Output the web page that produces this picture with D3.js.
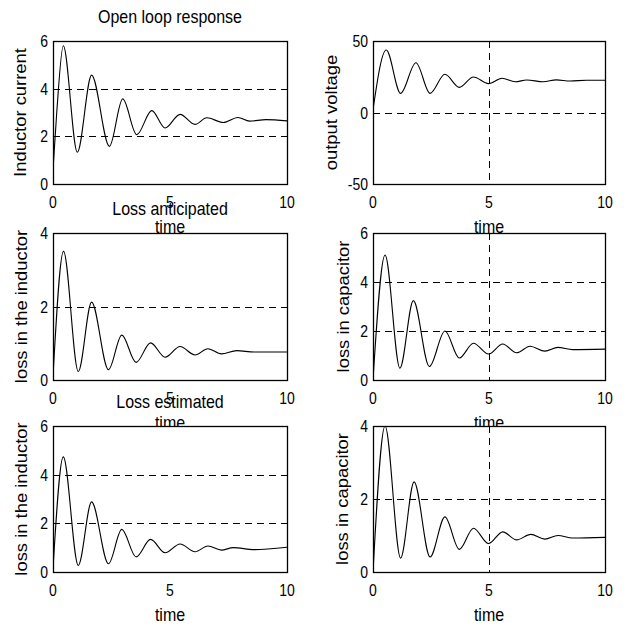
<!DOCTYPE html>
<html>
<head>
<meta charset="utf-8">
<script src="https://cdn.jsdelivr.net/npm/d3@7"></script>
<style>
  body { margin: 0; background: #fff; }
  text { font-family: "Liberation Sans", Arial, sans-serif; fill: #000; }
</style>
</head>
<body>
<div class="canvas"></div>
<script>
// values: time and value at peaks / troughs
const currentT = [0, 0.16, 0.44, 1.04, 1.65, 2.41, 2.98, 3.58, 4.22, 4.79, 5.43, 6.07, 6.57, 7.28, 7.9, 8.4, 9.1, 10];
const currentV = [0.6, 3.0, 5.8, 1.33, 4.57, 1.58, 3.57, 2.07, 3.08, 2.35, 2.92, 2.5, 2.78, 2.58, 2.79, 2.64, 2.7, 2.65];

const voltageT = [0, 0.57, 1.19, 1.85, 2.46, 3.1, 3.72, 4.33, 4.98, 5.56, 6.13, 6.63, 7.34, 7.9, 8.5, 9.2, 10];
const voltageV = [2, 43.7, 13.4, 34.8, 13.4, 26.7, 17.6, 24.8, 20.2, 23.9, 21.5, 22.7, 21.5, 22.8, 22.0, 22.6, 22.6];

const indAntT = [0, 0.45, 1.08, 1.65, 2.37, 2.94, 3.55, 4.17, 4.79, 5.43, 6.07, 6.62, 7.2, 7.85, 8.6, 10];
const indAntV = [0.1, 3.5, 0.23, 2.12, 0.28, 1.22, 0.48, 1.01, 0.62, 0.91, 0.68, 0.85, 0.71, 0.8, 0.76, 0.76];

const capAntT = [0, 0.52, 1.16, 1.74, 2.43, 3.1, 3.72, 4.33, 4.98, 5.59, 6.19, 6.77, 7.41, 7.97, 8.6, 10];
const capAntV = [0, 5.1, 0.48, 3.24, 0.55, 2.0, 0.9, 1.5, 1.06, 1.47, 1.11, 1.38, 1.18, 1.33, 1.24, 1.26];

const indEstT = [0, 0.44, 1.08, 1.65, 2.37, 2.94, 3.55, 4.17, 4.79, 5.43, 6.07, 6.62, 7.2, 7.7, 8.6, 10];
const indEstV = [0.14, 4.73, 0.27, 2.88, 0.34, 1.75, 0.62, 1.34, 0.79, 1.15, 0.83, 1.07, 0.9, 1.0, 0.92, 1.02];

const capEstT = [0, 0.52, 1.19, 1.77, 2.46, 3.1, 3.72, 4.33, 4.98, 5.59, 6.19, 6.8, 7.41, 7.97, 8.6, 10];
const capEstV = [0, 4.0, 0.38, 2.47, 0.41, 1.51, 0.62, 1.2, 0.78, 1.1, 0.88, 1.03, 0.9, 1.0, 0.93, 0.95];

const xTicks = [0, 5, 10];

// layout of the 3x2 grid of axes
const cols = [[53, 287], [373, 605]];
const rows = [[41, 184], [233, 380], [426, 572]];

const panels = [
  { c: 0, r: 0, t: currentT, v: currentV, y: [0, 6], yTicks: [0, 2, 4, 6], hGrid: [2, 4], vGrid: [],
    title: 'Open loop response', ylabel: 'Inductor current', labX: 20 },
  { c: 1, r: 0, t: voltageT, v: voltageV, y: [-50, 50], yTicks: [-50, 0, 50], hGrid: [0], vGrid: [5],
    title: '', ylabel: 'output voltage', labX: 331 },
  { c: 0, r: 1, t: indAntT, v: indAntV, y: [0, 4], yTicks: [0, 2, 4], hGrid: [2], vGrid: [],
    title: 'Loss anticipated', ylabel: 'loss in the inductor', labX: 21 },
  { c: 1, r: 1, t: capAntT, v: capAntV, y: [0, 6], yTicks: [0, 2, 4, 6], hGrid: [2, 4], vGrid: [5],
    title: '', ylabel: 'loss in capacitor', labX: 343 },
  { c: 0, r: 2, t: indEstT, v: indEstV, y: [0, 6], yTicks: [0, 2, 4, 6], hGrid: [2, 4], vGrid: [],
    title: 'Loss estimated', ylabel: 'loss in the inductor', labX: 21 },
  { c: 1, r: 2, t: capEstT, v: capEstV, y: [0, 4], yTicks: [0, 2, 4], hGrid: [2], vGrid: [5],
    title: '', ylabel: 'loss in capacitor', labX: 342 }
];

const svg = d3.select('.canvas')
  .append('svg')
    .attr('width', 625)
    .attr('height', 625);

const defs = svg.append('defs');

// text is a bit stretched vertically in the original
function hText(g, x, y, str, size, anchor) {
  return g.append('text')
    .attr('transform', `translate(${x},${y}) scale(1,1.2)`)
    .attr('text-anchor', anchor)
    .style('font-size', size + 'px')
    .text(str);
}

panels.forEach((p, i) => {
  const [x0, x1] = cols[p.c];
  const [y0, y1] = rows[p.r];
  const x = d3.scaleLinear().domain([0, 10]).range([x0, x1]);
  const y = d3.scaleLinear().domain(p.y).range([y1, y0]);
  const g = svg.append('g');

  defs.append('clipPath').attr('id', 'clip' + i)
    .append('rect')
      .attr('x', x0).attr('y', y0)
      .attr('width', x1 - x0).attr('height', y1 - y0);

  // white axes background (covers labels of the axes above)
  g.append('rect')
    .attr('x', x0).attr('y', y0)
    .attr('width', x1 - x0).attr('height', y1 - y0)
    .attr('fill', '#fff');

  // dashed grid lines
  p.hGrid.forEach(v => {
    g.append('line')
      .attr('x1', x0).attr('x2', x1)
      .attr('y1', Math.round(y(v)) + 0.5).attr('y2', Math.round(y(v)) + 0.5)
      .attr('stroke', '#000').attr('stroke-width', 1)
      .attr('stroke-dasharray', '7,5');
  });
  p.vGrid.forEach(v => {
    g.append('line')
      .attr('x1', Math.round(x(v)) + 0.5).attr('x2', Math.round(x(v)) + 0.5)
      .attr('y1', y0).attr('y2', y1)
      .attr('stroke', '#000').attr('stroke-width', 1)
      .attr('stroke-dasharray', '7,5');
  });

  // the response curve
  const pts = p.t.map((t, k) => ({ t: t, v: p.v[k] }));
  const line = d3.line()
    .x(d => x(d.t))
    .y(d => y(d.v))
    .curve(d3.curveMonotoneX);
  g.append('path')
    .datum(pts)
    .attr('clip-path', `url(#clip${i})`)
    .attr('fill', 'none')
    .attr('stroke', '#000')
    .attr('stroke-width', 1.1)
    .attr('d', line);

  // frame
  g.append('rect')
    .attr('x', x0 + 0.5).attr('y', y0 + 0.5)
    .attr('width', x1 - x0).attr('height', y1 - y0)
    .attr('fill', 'none')
    .attr('stroke', '#000').attr('stroke-width', 1.3);

  // tick labels
  xTicks.forEach(v => hText(g, x(v), y1 + 24, v, 14, 'middle'));
  p.yTicks.forEach(v => hText(g, x0 - 5, y(v) + 6, v, 14, 'end'));

  // axis labels and title
  g.append('text')
    .attr('transform', `translate(${p.labX},${(y0 + y1) / 2}) rotate(-90) scale(1.15,1)`)
    .attr('text-anchor', 'middle')
    .attr('dy', '0.35em')
    .style('font-size', '16px')
    .text(p.ylabel);
  hText(g, (x0 + x1) / 2, y1 + 49, 'time', 16, 'middle');
  if (p.title) hText(g, (x0 + x1) / 2, y0 - 18, p.title, 16, 'middle');
});
</script>
</body>
</html>
